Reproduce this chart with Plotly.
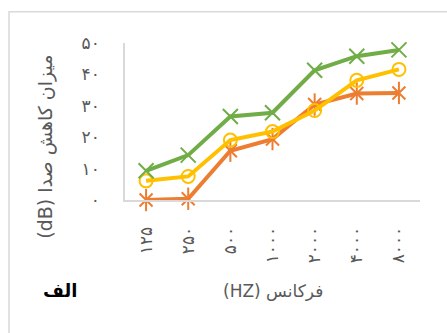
import plotly.graph_objects as go

# Frequency bands (Hz), shown with Persian digits
freq_labels = ["۱۲۵", "۲۵۰", "۵۰۰", "۱۰۰۰", "۲۰۰۰", "۴۰۰۰", "۸۰۰۰"]

# Noise reduction (dB) per series
orange_vals = [0.0, 0.4, 15.7, 19.4, 30.4, 33.9, 34.1]
yellow_vals = [6.1, 7.5, 19.1, 21.8, 28.5, 38.1, 41.6]
green_vals = [9.3, 14.3, 26.6, 27.8, 41.3, 45.8, 47.8]

y_tick_vals = [0, 10, 20, 30, 40, 50]
y_tick_text = ["۰", "۱۰", "۲۰", "۳۰", "۴۰", "۵۰"]

ORANGE = "#ED7D31"
YELLOW = "#FFC000"
GREEN = "#70AD47"
GRAY = "#595959"
AXIS_GRAY = "#D9D9D9"

FONT = "DejaVu Sans"

fig = go.Figure()

# Orange series: thick line with an X marker, plus a vertical stroke for a 6-spoke star
fig.add_trace(go.Scatter(
    x=freq_labels, y=orange_vals, mode="lines+markers",
    line=dict(color=ORANGE, width=4),
    marker=dict(symbol="x-thin", size=13, line=dict(color=ORANGE, width=2)),
    showlegend=False, cliponaxis=False,
))
fig.add_trace(go.Scatter(
    x=freq_labels, y=orange_vals, mode="markers",
    marker=dict(symbol="line-ns", size=16, line=dict(color=ORANGE, width=2)),
    showlegend=False, cliponaxis=False,
))

# Yellow series: open circles
fig.add_trace(go.Scatter(
    x=freq_labels, y=yellow_vals, mode="lines+markers",
    line=dict(color=YELLOW, width=4),
    marker=dict(symbol="circle-open", size=13, line=dict(color=YELLOW, width=2)),
    showlegend=False, cliponaxis=False,
))

# Green series: thin X markers
fig.add_trace(go.Scatter(
    x=freq_labels, y=green_vals, mode="lines+markers",
    line=dict(color=GREEN, width=4),
    marker=dict(symbol="x-thin", size=15, line=dict(color=GREEN, width=2)),
    showlegend=False, cliponaxis=False,
))

fig.update_layout(
    width=447, height=333,
    margin=dict(l=125, r=27, t=43, b=133),
    paper_bgcolor="white", plot_bgcolor="white",
    font=dict(family=FONT, color=GRAY),
    xaxis=dict(
        type="category", range=[-0.5, 6.5],
        showline=True, linecolor=AXIS_GRAY, linewidth=2,
        showgrid=False, zeroline=False,
        ticks="", tickangle=-90, ticklabelstandoff=18,
        tickfont=dict(size=17, color=GRAY, family=FONT),
    ),
    yaxis=dict(
        range=[0, 50], tickvals=y_tick_vals, ticktext=y_tick_text,
        showline=True, linecolor=AXIS_GRAY, linewidth=1.5,
        showgrid=False, zeroline=False,
        ticks="", ticklabelstandoff=20,
        tickfont=dict(size=17, color=GRAY, family=FONT),
    ),
    shapes=[dict(
        type="rect", xref="paper", yref="paper",
        x0=(9 - 125) / 295, x1=(460 - 125) / 295,
        y0=(200 - 350) / 156, y1=(200 - 13) / 156,
        line=dict(color=AXIS_GRAY, width=1.5), fillcolor="rgba(0,0,0,0)",
        layer="below",
    )],
    annotations=[
        dict(
            text="(dB) میزان کاهش صدا", textangle=-90,
            xref="paper", yref="paper",
            x=(46 - 125) / 295, y=(200 - 147) / 156,
            xanchor="center", yanchor="middle", showarrow=False,
            font=dict(size=19, color=GRAY, family=FONT),
        ),
        dict(
            text="(HZ) فرکانس",
            xref="paper", yref="paper",
            x=(273 - 125) / 295, y=(200 - 290) / 156,
            xanchor="center", yanchor="middle", showarrow=False,
            font=dict(size=17, color=GRAY, family=FONT),
        ),
        dict(
            text="<b>الف</b>",
            xref="paper", yref="paper",
            x=(60 - 125) / 295, y=(200 - 290) / 156,
            xanchor="center", yanchor="middle", showarrow=False,
            font=dict(size=18, color="black", family=FONT),
        ),
    ],
)

fig.write_html("out.html")
